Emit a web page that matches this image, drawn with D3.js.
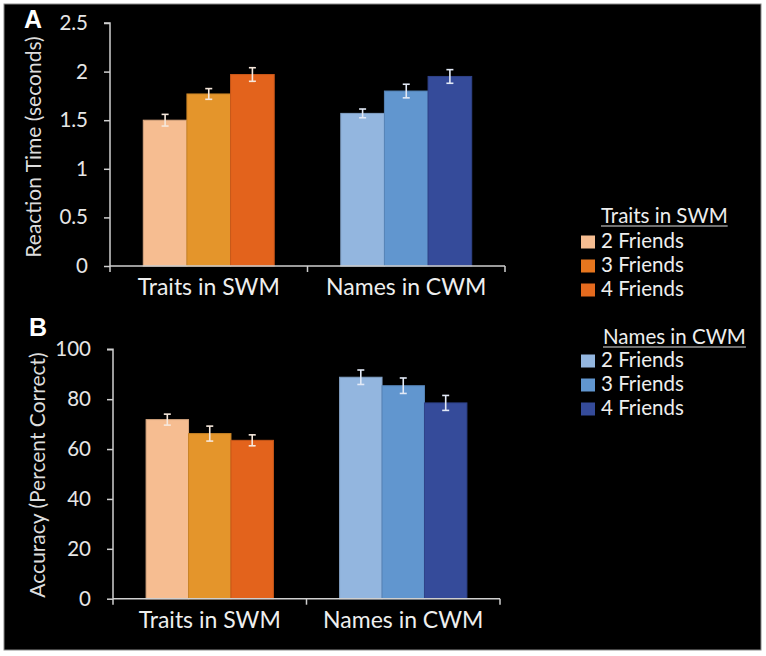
<!DOCTYPE html>
<meta charset="utf-8">
<style>
body { margin: 0; background: #fff; }
text { font-family: Lato, "Open Sans", sans-serif; fill: #eeeeee; }
.axis path, .axis line { stroke: #cfcfcf; stroke-width: 1.5px; }
.axis text { font-size: 20.5px; fill: #e6e6e6; font-family: Lato, sans-serif; }
</style>
<svg></svg>
<script src="https://d3js.org/d3.v7.min.js"></script>
<script>

// data
var groups = ["Traits in SWM", "Names in CWM"]
var friends = ["2 Friends", "3 Friends", "4 Friends"]

var rtMean = [[1.50, 1.77, 1.97], [1.57, 1.80, 1.95]]
var rtErr  = [[0.06, 0.055, 0.07], [0.045, 0.07, 0.07]]
var accMean = [[71.8, 66.2, 63.5], [88.8, 85.4, 78.5]]
var accErr  = [[2.2, 3.0, 2.2], [2.9, 3.1, 3.0]]

var rtTicks = [0, 0.5, 1, 1.5, 2, 2.5]
var accTicks = [0, 20, 40, 60, 80, 100]

var barColors = [["#f6bd91", "#e4952b", "#e3631c"], ["#93b6df", "#6196cf", "#354b9a"]]
var legendColors = [["#f6bd91", "#e6761e", "#e46a1e"], ["#93b6df", "#6196cf", "#354b9a"]]
var errColors = ["#f6e8dc", "#e2e9f6"]

var svg = d3.select("svg").attr("width", 766).attr("height", 656)

svg.append("rect")
  .attr("x", 4).attr("y", 4).attr("width", 757).attr("height", 646)
  .attr("fill", "#000").attr("stroke", "#8a8a8a").attr("stroke-width", 1)

function panel(opt) {
  var g = svg.append("g")

  var x = d3.scaleBand().domain(groups).range([opt.x0, opt.x1])
    .paddingInner(opt.pad).paddingOuter(opt.pad / 2)
  var xi = d3.scaleBand().domain(friends).range([0, x.bandwidth()])
  var y = d3.scaleLinear().domain(opt.domain).range([opt.yb, opt.yt])

  // bars
  groups.forEach(function(grp, gi) {
    var bg = g.append("g").attr("transform", "translate(" + x(grp) + ",0)")
    var rows = friends.map(function(f, fi) {
      return { f: f, v: opt.mean[gi][fi], e: opt.err[gi][fi], c: barColors[gi][fi] }
    })
    bg.selectAll("rect").data(rows).enter().append("rect")
      .attr("x", function(d) { return xi(d.f) })
      .attr("width", xi.bandwidth())
      .attr("y", function(d) { return y(d.v) })
      .attr("height", function(d) { return y(0) - y(d.v) })
      .attr("fill", function(d) { return d.c })
      .attr("stroke", function(d) { return d3.color(d.c).darker(0.35) })
      .attr("stroke-width", 1)

    // error bars
    var eb = bg.selectAll("g.err").data(rows).enter().append("g")
      .attr("stroke", errColors[gi]).attr("stroke-width", 1.6)
    eb.append("line")
      .attr("x1", function(d) { return xi(d.f) + xi.bandwidth() / 2 })
      .attr("x2", function(d) { return xi(d.f) + xi.bandwidth() / 2 })
      .attr("y1", function(d) { return y(d.v + d.e) })
      .attr("y2", function(d) { return y(d.v - d.e) })
    eb.append("line")
      .attr("x1", function(d) { return xi(d.f) + xi.bandwidth() / 2 - 3.5 })
      .attr("x2", function(d) { return xi(d.f) + xi.bandwidth() / 2 + 3.5 })
      .attr("y1", function(d) { return y(d.v + d.e) })
      .attr("y2", function(d) { return y(d.v + d.e) })
    eb.append("line")
      .attr("x1", function(d) { return xi(d.f) + xi.bandwidth() / 2 - 3.5 })
      .attr("x2", function(d) { return xi(d.f) + xi.bandwidth() / 2 + 3.5 })
      .attr("y1", function(d) { return y(d.v - d.e) })
      .attr("y2", function(d) { return y(d.v - d.e) })
  })

  // y axis
  var ya = g.append("g").attr("class", "axis")
    .attr("transform", "translate(" + opt.x0 + ",0)")
    .call(d3.axisLeft(y).tickValues(opt.ticks).tickFormat(function(d) { return String(d) })
      .tickSizeOuter(0).tickSize(6).tickPadding(16))
  ya.select(".domain").attr("d", "M-6," + opt.yt + "H0V" + opt.yb)

  // x axis: line + boundary ticks + group labels
  var xa = g.append("g").attr("class", "axis")
  var bounds = [opt.x0, (x(groups[0]) + x.bandwidth() + x(groups[1])) / 2, opt.x1]
  xa.append("path").attr("fill", "none")
    .attr("d", "M" + opt.x0 + "," + opt.yb + "H" + opt.x1)
  xa.selectAll("line").data(bounds).enter().append("line")
    .attr("x1", function(d) { return d }).attr("x2", function(d) { return d })
    .attr("y1", opt.yb).attr("y2", opt.yb + 6)
  g.selectAll("text.cat").data(groups).enter().append("text")
    .attr("class", "cat")
    .attr("x", function(d) { return x(d) + x.bandwidth() / 2 })
    .attr("y", opt.yb + 29)
    .attr("text-anchor", "middle")
    .style("font-size", "23px")
    .text(function(d) { return d })

  // y title
  g.append("text")
    .attr("transform", "translate(" + opt.titleX + "," + opt.titleY + ") rotate(-90)")
    .attr("text-anchor", "middle")
    .style("font-size", "21px")
    .style("fill", "#dddddd")
    .text(opt.title)

  // panel letter
  svg.append("text")
    .attr("x", opt.letterX).attr("y", opt.letterY)
    .style("font-family", "'Liberation Sans', Arial, sans-serif")
    .style("font-weight", "bold").style("font-size", "25px").style("fill", "#fff")
    .text(opt.letter)
}

panel({ x0: 110, x1: 505, pad: 0.337, yb: 266, yt: 23, domain: [0, 2.5],
  mean: rtMean, err: rtErr, ticks: rtTicks, title: "Reaction Time (seconds)",
  titleX: 41, titleY: 147, letter: "A", letterX: 24, letterY: 28 })

panel({ x0: 113, x1: 500, pad: 0.342, yb: 598.7, yt: 349.3, domain: [0, 100],
  mean: accMean, err: accErr, ticks: accTicks, title: "Accuracy (Percent Correct)",
  titleX: 45, titleY: 475, letter: "B", letterX: 29, letterY: 336 })

// legend
var legendY = [223, 344]
groups.forEach(function(grp, gi) {
  var lg = svg.append("g")
  var hx = gi == 0 ? 601 : 603
  var head = lg.append("text")
    .attr("x", hx).attr("y", legendY[gi])
    .style("font-size", "20.5px")
    .text(grp)
  var w = head.node().getComputedTextLength()
  lg.append("line")
    .attr("x1", hx).attr("x2", hx + w)
    .attr("y1", legendY[gi] + 3).attr("y2", legendY[gi] + 3)
    .attr("stroke", "#e0e0e0").attr("stroke-width", 1.2)
  friends.forEach(function(f, fi) {
    var by = legendY[gi] + (gi == 0 ? 25 : 23) + fi * 24
    lg.append("rect")
      .attr("x", 581).attr("y", by - 12.5).attr("width", 14).attr("height", 13)
      .attr("fill", legendColors[gi][fi])
    lg.append("text")
      .attr("x", 601).attr("y", by)
      .style("font-size", "20.5px")
      .text(f)
  })
})

</script>
